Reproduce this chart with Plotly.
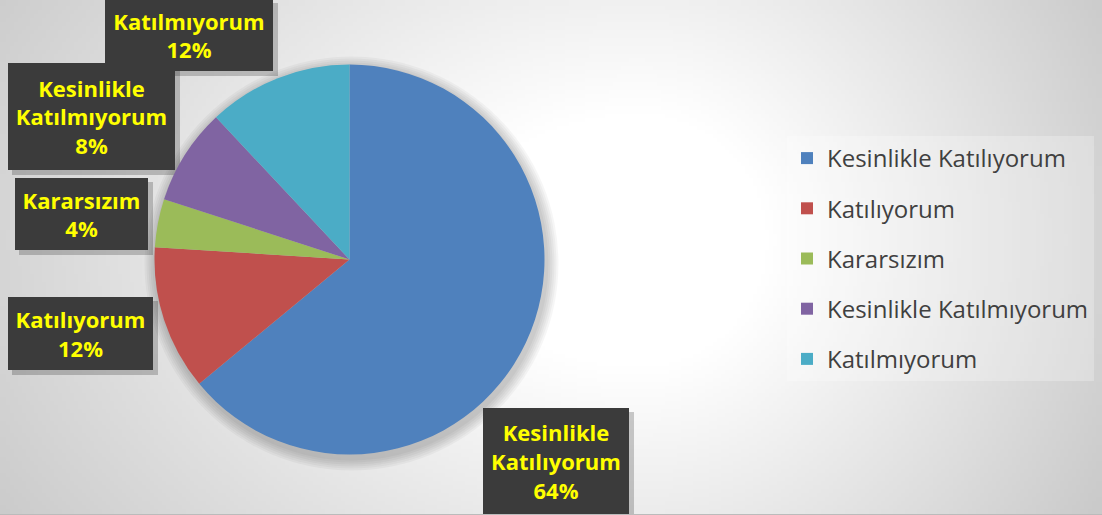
import base64, struct, zlib
import numpy as np
import plotly.graph_objects as go

W, H = 1102, 515

categories = ["Kesinlikle Katılıyorum", "Katılıyorum", "Kararsızım",
              "Kesinlikle Katılmıyorum", "Katılmıyorum"]
values = [64, 12, 4, 8, 12]
colors = ["#4f81bd", "#c0504d", "#9bbb59", "#8064a2", "#4bacc6"]

# label box geometry (pixels): centre x, centre y, width, height
box_geom = {
    "Kesinlikle Katılıyorum": (556, 461, 146, 106),
    "Katılıyorum": (80.5, 333.5, 145, 73),
    "Kararsızım": (81.5, 214, 133, 72),
    "Kesinlikle Katılmıyorum": (91.5, 116.5, 167, 107),
    "Katılmıyorum": (189, 35, 168, 72),
}


def bg_png():
    w, h = 276, 129
    ys, xs = np.mgrid[0:h, 0:w].astype(float)
    X = xs * W / (w - 1)
    Y = ys * H / (h - 1)
    cx, cy = 640, 240
    dx = X - cx
    dy = Y - cy
    kx = np.where(dx < 0, 0.7, 1.0)
    d = np.sqrt((dx * kx) ** 2 + (dy * 1.0) ** 2)
    v = 255 - 0.13 * np.clip(d - 130, 0, None)
    v = np.clip(v, 195, 255).astype(np.uint8)
    raw = b"".join(b"\x00" + v[r].tobytes() for r in range(h))

    def chunk(t, data):
        c = struct.pack(">I", len(data)) + t + data
        return c + struct.pack(">I", zlib.crc32(t + data) & 0xffffffff)

    png = b"\x89PNG\r\n\x1a\n"
    png += chunk(b"IHDR", struct.pack(">IIBBBBB", w, h, 8, 0, 0, 0, 0))
    png += chunk(b"IDAT", zlib.compress(raw, 9))
    png += chunk(b"IEND", b"")
    return "data:image/png;base64," + base64.b64encode(png).decode()


fig = go.Figure()

cx_pie, cy_pie, r_pie = 349.5, 259.5, 195
fig.add_trace(go.Pie(
    labels=categories, values=values, sort=False, direction="clockwise",
    rotation=0, marker=dict(colors=colors, line=dict(width=0)),
    textinfo="none", hoverinfo="label+percent", showlegend=False,
    domain=dict(x=[(cx_pie - r_pie) / W, (cx_pie + r_pie) / W],
                y=[1 - (cy_pie + r_pie) / H, 1 - (cy_pie - r_pie) / H]),
))

# legend entries
for i, (c, col) in enumerate(zip(categories, colors)):
    fig.add_trace(go.Scatter(
        x=[None], y=[None], mode="markers", name=c, legendgroup=f"g{i}",
        marker=dict(symbol="square", size=14, color=col),
        showlegend=True,
    ))

shapes = []
# soft shadow around the pie
for k in range(1, 7):
    rr = r_pie + 2 * k
    sx, sy = 2, 4
    shapes.append(dict(
        type="circle", xref="paper", yref="paper", layer="below",
        x0=(cx_pie + sx - rr) / W, x1=(cx_pie + sx + rr) / W,
        y0=1 - (cy_pie + sy + rr) / H, y1=1 - (cy_pie + sy - rr) / H,
        fillcolor="rgba(0,0,0,0.035)", line=dict(width=0),
    ))

total = sum(values)
annotations = []
for c, v in zip(categories, values):
    bx, by, bw, bh = box_geom[c]
    pct = round(100 * v / total)
    text = "<br>".join(c.split(" ")) + f"<br>{pct}%"
    shapes.append(dict(
        type="rect", xref="paper", yref="paper", layer="below",
        x0=(bx - bw / 2 + 4) / W, x1=(bx + bw / 2 + 5) / W,
        y0=1 - (by + bh / 2 + 5) / H, y1=1 - (by - bh / 2 + 4) / H,
        fillcolor="rgba(0,0,0,0.2)", line=dict(width=0),
    ))
    annotations.append(dict(
        xref="paper", yref="paper", x=bx / W, y=1 - by / H,
        xanchor="center", yanchor="middle", text=text, showarrow=False,
        width=bw, height=bh, bgcolor="#3b3b3b", borderpad=0, borderwidth=0,
        align="center", valign="middle",
        font=dict(family="Open Sans", size=22, color="#ffff00", weight="bold"),
    ))

fig.update_layout(
    width=W, height=H,
    margin=dict(l=0, r=0, t=0, b=0),
    paper_bgcolor="#eeeeee", plot_bgcolor="rgba(0,0,0,0)",
    xaxis=dict(visible=False), yaxis=dict(visible=False),
    images=[dict(source=bg_png(), xref="paper", yref="paper", x=0, y=1,
                 sizex=1, sizey=1, sizing="stretch", layer="below",
                 xanchor="left", yanchor="top")],
    shapes=shapes + [dict(type="line", xref="paper", yref="paper",
                          x0=0, x1=1, y0=0.5 / H, y1=0.5 / H,
                          line=dict(color="#bbbbbb", width=1))],
    annotations=annotations,
    legend=dict(x=787 / W, y=1 - 136 / H, xanchor="left", yanchor="top",
                bgcolor="rgba(255,255,255,0.25)", borderwidth=0,
                font=dict(family="Open Sans", size=24, color="#404040"),
                tracegroupgap=16, itemsizing="constant"),
    showlegend=True,
)

fig.write_html("out.html", config={"displayModeBar": False},
               post_script="document.body.style.margin='0';"
                           "document.body.style.overflow='hidden';")
